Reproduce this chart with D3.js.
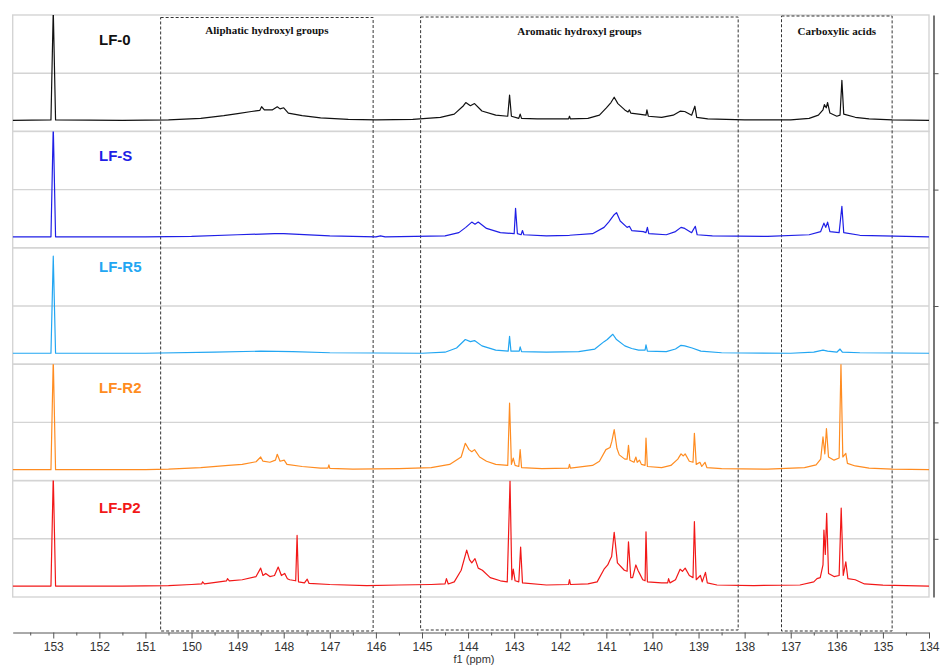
<!DOCTYPE html>
<html>
<head>
<meta charset="utf-8">
<title>31P NMR spectra</title>
<script src="https://cdn.jsdelivr.net/npm/d3@7"></script>
<style>
  body { margin: 0; background: #fff; }
  svg { display: block; }
  .axis text { font-family: 'Liberation Sans', Arial, sans-serif; font-size: 12px; fill: #333; }
  .axis path, .axis line { stroke: #555; }
</style>
</head>
<body>
<div id="chart"></div>
<script>
// sample names and colours (top to bottom)
const samples = ['LF-0', 'LF-S', 'LF-R5', 'LF-R2', 'LF-P2']
const colors = ['#111111', '#1f1fe6', '#22a6f2', '#ff8c21', '#f21818']

// spectra: [ppm, relative intensity]
const lf0 = [[153.88,0],[153.05,0.005],[153.0,1.05],[152.95,0.005],[151.5,0],[150.5,0.005],[149.8,0.02],[149.3,0.045],[149.0,0.065],[148.7,0.085],[148.52,0.095],[148.48,0.13],[148.42,0.1],[148.25,0.1],[148.14,0.13],[148.08,0.11],[148.0,0.12],[147.9,0.07],[147.6,0.045],[147.2,0.025],[146.6,0.01],[146.0,0.005],[145.2,0.01],[144.6,0.03],[144.3,0.06],[144.1,0.14],[144.05,0.17],[143.95,0.14],[143.86,0.16],[143.7,0.09],[143.4,0.05],[143.14,0.04],[143.10,0.24],[143.06,0.04],[142.9,0.02],[142.87,0.06],[142.84,0.02],[142.5,0.015],[141.82,0.015],[141.8,0.04],[141.78,0.015],[141.4,0.02],[141.15,0.05],[141.0,0.12],[140.9,0.17],[140.83,0.22],[140.75,0.16],[140.6,0.1],[140.53,0.08],[140.50,0.1],[140.47,0.07],[140.3,0.06],[140.14,0.05],[140.12,0.1],[140.09,0.04],[139.8,0.03],[139.55,0.05],[139.4,0.088],[139.3,0.085],[139.15,0.05],[139.08,0.135],[139.04,0.03],[138.8,0.015],[138.0,0.005],[137.0,0.005],[136.6,0.02],[136.4,0.05],[136.3,0.1],[136.27,0.15],[136.23,0.12],[136.2,0.17],[136.15,0.07],[136.0,0.04],[135.93,0.05],[135.89,0.38],[135.85,0.06],[135.6,0.03],[135.3,0.015],[134.8,0.005],[134.0,0]]
const lfS = [[153.88,0],[153.05,0],[153.0,1.05],[152.95,0],[151,0],[150,0.005],[149,0.02],[148.2,0.03],[148.0,0.03],[147,0.01],[146,0],[145.9,0.01],[145.8,0],[144.5,0.01],[144.2,0.04],[144.05,0.09],[143.92,0.14],[143.85,0.12],[143.78,0.14],[143.6,0.08],[143.3,0.04],[143.0,0.03],[142.97,0.27],[142.93,0.03],[142.85,0.02],[142.82,0.06],[142.79,0.02],[142.3,0.01],[141.8,0.015],[141.3,0.03],[141.05,0.09],[140.95,0.14],[140.83,0.21],[140.78,0.23],[140.7,0.15],[140.55,0.09],[140.5,0.1],[140.45,0.06],[140.2,0.05],[140.14,0.04],[140.11,0.09],[140.08,0.03],[139.7,0.02],[139.5,0.05],[139.38,0.09],[139.3,0.08],[139.15,0.04],[139.07,0.1],[139.03,0.02],[138.7,0.01],[137.5,0.005],[136.6,0.02],[136.35,0.05],[136.28,0.13],[136.24,0.09],[136.2,0.14],[136.15,0.05],[135.95,0.04],[135.89,0.29],[135.85,0.04],[135.5,0.015],[134,0]]
const lfR5 = [[153.88,0],[153.05,0],[153.0,0.92],[152.95,0],[151,0],[149.5,0.01],[148.5,0.02],[147.8,0.015],[147,0.005],[145,0],[144.5,0.01],[144.25,0.05],[144.06,0.13],[143.95,0.11],[143.86,0.12],[143.7,0.07],[143.4,0.03],[143.13,0.02],[143.10,0.16],[143.07,0.02],[142.89,0.02],[142.87,0.06],[142.84,0.015],[142.3,0.01],[141.6,0.015],[141.25,0.04],[141.05,0.11],[140.98,0.13],[140.86,0.18],[140.78,0.13],[140.6,0.07],[140.45,0.045],[140.3,0.03],[140.16,0.03],[140.14,0.08],[140.11,0.02],[139.7,0.015],[139.5,0.04],[139.38,0.075],[139.3,0.07],[139.14,0.05],[138.95,0.02],[138.5,0.005],[137,0],[136.5,0.01],[136.3,0.03],[136.2,0.02],[136.0,0.01],[135.93,0.04],[135.88,0.01],[135.5,0.005],[134,0]]
const lfR2 = [[153.88,0],[153.05,0],[153.0,1.05],[152.95,0],[151,0],[150.5,0.005],[149.8,0.02],[149.2,0.04],[148.9,0.05],[148.6,0.075],[148.5,0.12],[148.45,0.08],[148.3,0.07],[148.18,0.09],[148.14,0.146],[148.08,0.08],[147.99,0.09],[147.93,0.05],[147.6,0.03],[147.2,0.015],[147.04,0.015],[147.02,0.045],[147.0,0.012],[146.5,0.005],[145.5,0.01],[144.8,0.02],[144.4,0.05],[144.15,0.12],[144.06,0.25],[143.98,0.19],[143.92,0.17],[143.86,0.19],[143.75,0.12],[143.6,0.08],[143.4,0.05],[143.14,0.04],[143.10,0.63],[143.06,0.05],[143.02,0.11],[142.98,0.04],[142.9,0.03],[142.87,0.19],[142.84,0.02],[142.4,0.01],[141.82,0.015],[141.8,0.05],[141.78,0.015],[141.3,0.04],[141.15,0.08],[141.01,0.19],[140.92,0.21],[140.88,0.27],[140.83,0.38],[140.77,0.2],[140.72,0.14],[140.6,0.1],[140.55,0.1],[140.52,0.23],[140.49,0.09],[140.4,0.07],[140.36,0.12],[140.33,0.07],[140.28,0.09],[140.24,0.05],[140.16,0.04],[140.14,0.3],[140.11,0.03],[139.8,0.02],[139.6,0.04],[139.45,0.1],[139.38,0.15],[139.33,0.13],[139.29,0.15],[139.2,0.08],[139.12,0.07],[139.09,0.345],[139.05,0.05],[138.97,0.07],[138.93,0.03],[138.86,0.07],[138.82,0.02],[138.5,0.01],[137.5,0.005],[136.7,0.02],[136.45,0.045],[136.35,0.1],[136.3,0.31],[136.26,0.15],[136.225,0.39],[136.18,0.12],[136.06,0.09],[135.95,0.11],[135.91,1.0],[135.87,0.12],[135.805,0.155],[135.77,0.06],[135.6,0.035],[135.3,0.015],[134.8,0.005],[134,0]]
const lfP2 = [[153.88,0],[153.05,0],[153.0,1.05],[152.95,0],[151.5,0],[150.5,0.005],[150.0,0.015],[149.78,0.02],[149.76,0.04],[149.72,0.02],[149.4,0.04],[149.24,0.05],[149.22,0.07],[149.18,0.05],[148.9,0.06],[148.6,0.09],[148.5,0.17],[148.45,0.1],[148.39,0.12],[148.3,0.09],[148.2,0.1],[148.12,0.18],[148.05,0.1],[147.98,0.12],[147.92,0.07],[147.87,0.06],[147.74,0.05],[147.71,0.48],[147.68,0.04],[147.55,0.03],[147.49,0.065],[147.45,0.025],[147.0,0.015],[146.2,0.005],[145.5,0.01],[144.8,0.015],[144.5,0.02],[144.47,0.07],[144.43,0.02],[144.3,0.04],[144.15,0.15],[144.03,0.34],[143.97,0.25],[143.92,0.22],[143.85,0.26],[143.78,0.17],[143.69,0.15],[143.52,0.08],[143.3,0.05],[143.15,0.04],[143.09,0.995],[143.05,0.06],[143.02,0.16],[142.98,0.05],[142.9,0.04],[142.86,0.37],[142.82,0.03],[142.3,0.01],[141.82,0.015],[141.8,0.06],[141.78,0.015],[141.4,0.02],[141.2,0.04],[141.05,0.16],[140.97,0.2],[140.92,0.25],[140.885,0.28],[140.83,0.51],[140.76,0.22],[140.61,0.15],[140.55,0.14],[140.52,0.42],[140.47,0.08],[140.43,0.08],[140.36,0.2],[140.31,0.145],[140.28,0.12],[140.21,0.06],[140.16,0.05],[140.14,0.515],[140.11,0.04],[139.8,0.03],[139.67,0.03],[139.65,0.07],[139.62,0.03],[139.5,0.06],[139.4,0.16],[139.35,0.14],[139.29,0.17],[139.2,0.1],[139.12,0.08],[139.09,0.61],[139.05,0.06],[138.96,0.1],[138.92,0.04],[138.85,0.13],[138.81,0.03],[138.6,0.01],[137.8,0.005],[136.8,0.01],[136.5,0.04],[136.43,0.07],[136.36,0.08],[136.3,0.2],[136.28,0.53],[136.25,0.3],[136.22,0.69],[136.18,0.12],[136.06,0.09],[135.95,0.1],[135.905,0.74],[135.86,0.1],[135.805,0.23],[135.76,0.07],[135.6,0.06],[135.4,0.02],[135.0,0.008],[134,0]]
const spectra = [lf0, lfS, lfR5, lfR2, lfP2]

// dashed regions (ppm) and their titles
const regionNames = ['Aliphatic hydroxyl groups', 'Aromatic hydroxyl groups', 'Carboxylic acids']
const regionStart = [150.67, 145.03, 137.2]
const regionEnd = [146.06, 138.14, 134.8]

// x axis ticks
const majorTicks = d3.range(134, 154, 1)
const minorTicks = d3.range(134.5, 154, 1)

const width = 940, height = 665

const svg = d3.select('#chart').append('svg')
  .attr('width', width)
  .attr('height', height)

const x = d3.scaleLinear().domain([153.88, 134]).range([12.7, 929])
const band = d3.scaleBand().domain(samples).range([15, 597])
const bw = band.bandwidth()
const baseOff = bw * 0.906

// label baselines inside each panel (px below panel top)
const labelOff = [30, 29.6, 24, 29, 32.5]
const regionTop = [17.5, 17, 16]
const regionBottom = [631, 630, 631]
const regionLabelY = [34, 35, 34.5]

// panels
const panels = svg.append('g')
samples.forEach((s, i) => {
  const top = band(s)
  const g = panels.append('g')
  g.append('line')
    .attr('x1', 12.7).attr('x2', 929)
    .attr('y1', top + bw / 2).attr('y2', top + bw / 2)
    .attr('stroke', '#d4d4d4').attr('stroke-width', 1.4)
  g.append('rect')
    .attr('x', 12.7).attr('y', top)
    .attr('width', 929 - 12.7).attr('height', bw)
    .attr('fill', 'none')
    .attr('stroke', '#d4d4d4').attr('stroke-width', 1.4)

  svg.append('clipPath').attr('id', 'clip' + i)
    .append('rect')
    .attr('x', 12.7).attr('y', top)
    .attr('width', 929 - 12.7).attr('height', bw)
})

// dashed region boxes
regionNames.forEach((name, i) => {
  const x0 = x(regionStart[i]), x1 = x(regionEnd[i])
  svg.append('rect')
    .attr('x', x0).attr('y', regionTop[i])
    .attr('width', x1 - x0).attr('height', regionBottom[i] - regionTop[i])
    .attr('fill', 'none')
    .attr('stroke', '#333')
    .attr('stroke-width', 1)
    .attr('stroke-dasharray', '3,2')
  svg.append('text')
    .attr('x', (x0 + x1) / 2)
    .attr('y', regionLabelY[i])
    .attr('text-anchor', 'middle')
    .attr('font-family', "'Liberation Serif', 'Times New Roman', serif")
    .attr('font-weight', 'bold')
    .attr('font-size', 11)
    .attr('fill', '#111')
    .text(name)
})

// spectra
spectra.forEach((data, i) => {
  const top = band(samples[i])
  const y = d3.scaleLinear().domain([0, 1]).range([top + baseOff, top + baseOff - 105.5])
  const line = d3.line().x(d => x(d[0])).y(d => y(d[1]))
  svg.append('path')
    .datum(data)
    .attr('clip-path', `url(#clip${i})`)
    .attr('d', line)
    .attr('fill', 'none')
    .attr('stroke', colors[i])
    .attr('stroke-width', 1.2)
    .attr('stroke-linejoin', 'round')

  svg.append('text')
    .attr('x', 99)
    .attr('y', top + labelOff[i])
    .attr('font-family', "'Liberation Sans', Arial, sans-serif")
    .attr('font-weight', 'bold')
    .attr('font-size', 15)
    .attr('fill', colors[i])
    .text(samples[i])
})

// bottom axis
const axisY = 632.5
svg.append('g')
  .attr('class', 'axis')
  .attr('transform', `translate(0,${axisY})`)
  .call(d3.axisBottom(x).tickValues(majorTicks).tickSize(6).tickSizeOuter(0).tickPadding(4).tickFormat(d3.format('d')))
svg.append('g')
  .attr('class', 'axis')
  .attr('transform', `translate(0,${axisY})`)
  .call(d3.axisBottom(x).tickValues(minorTicks).tickSize(3).tickSizeOuter(0).tickFormat(''))
  .select('.domain').remove()

svg.append('text')
  .attr('x', 474)
  .attr('y', 662.5)
  .attr('text-anchor', 'middle')
  .attr('font-family', "'Liberation Sans', Arial, sans-serif")
  .attr('font-size', 11)
  .attr('fill', '#333')
  .text('f1 (ppm)')

// right intensity axis (unlabelled)
const yRight = d3.scaleLinear().domain([15, 597]).range([15, 597])
const rightAxis = svg.append('g')
  .attr('class', 'axis')
  .attr('transform', 'translate(933.5,0)')
  .call(d3.axisRight(yRight).tickValues(samples.map(s => band(s) + bw / 2)).tickSize(5).tickSizeOuter(0).tickFormat(''))
rightAxis.select('.domain').attr('stroke-width', 1.6)
</script>
</body>
</html>
